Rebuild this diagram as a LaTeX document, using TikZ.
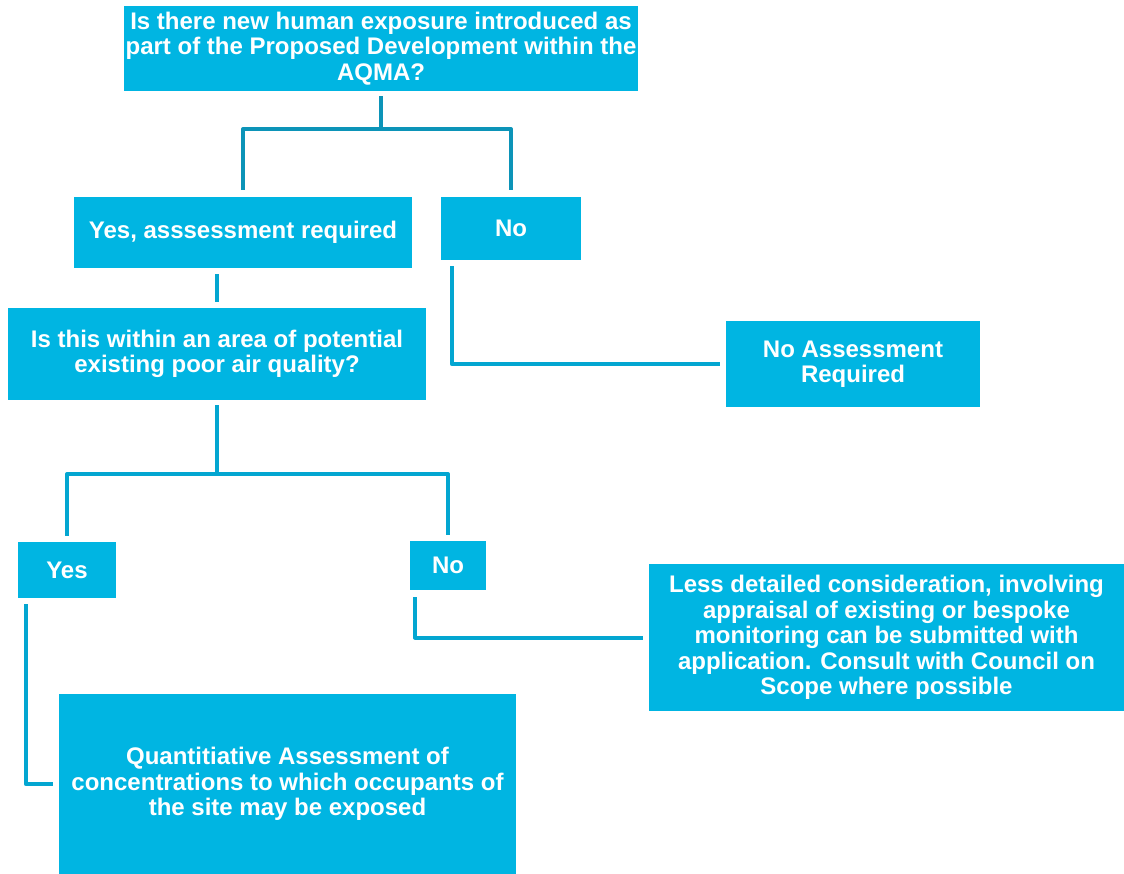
\documentclass[tikz,border=0pt]{standalone}
\usepackage{fontspec}
\setmainfont{Liberation Sans}
\definecolor{boxc}{HTML}{00B5E2}
\definecolor{conndark}{HTML}{0C94B8}
\definecolor{connc}{HTML}{03A6D1}
\tikzset{
  box/.style={fill=boxc, text=white, inner sep=0pt, align=center,
    font=\bfseries\fontsize{24}{25.5}\selectfont},
  conn/.style={draw=connc, line width=4pt, line join=round},
  conntop/.style={conn, draw=conndark}
}
\begin{document}
\begin{tikzpicture}[x=1pt,y=-1pt]
\useasboundingbox (0,0) rectangle (1124,874);
\node[box, minimum width=514, minimum height=85] (top) at (381,48.5)
  {Is there new human exposure introduced as\\part of the Proposed Development within the\\AQMA?};
\node[box, minimum width=338, minimum height=71] (yesa) at (243,232.5) {Yes, asssessment required};
\node[box, minimum width=140, minimum height=63] (notop) at (511,228.5) {No};
\node[box, minimum width=418, minimum height=92] (isthis) at (217,354)
  {Is this within an area of potential\\existing poor air quality?};
\node[box, minimum width=254, minimum height=86] (noassess) at (853,364)
  {No Assessment\\Required};
\node[box, minimum width=98, minimum height=56] (yes) at (67,570) {Yes};
\node[box, minimum width=76, minimum height=49] (no2) at (448,565.5) {No};
\node[box, minimum width=475, minimum height=147] (less) at (886.5,637.5)
  {Less detailed consideration, involving\\appraisal of existing or bespoke\\monitoring can be submitted with\\application. Consult with Council on\\Scope where possible};
\node[box, minimum width=457, minimum height=180] (quant) at (287.5,784)
  {Quantitiative Assessment of\\concentrations to which occupants of\\the site may be exposed};
% connectors
\draw[conntop] ([yshift=-5]top.south) -- ([yshift=-38]top.south);
\draw[conntop] ([yshift=7]yesa.north) |- ([yshift=-38]top.south) -| ([yshift=7]notop.north);
\draw[conn] ([yshift=-6]yesa.south -| isthis.north) -- ([yshift=6]isthis.north);
\draw[conn] ([xshift=11,yshift=-6]notop.south west) |- ([xshift=-6]noassess.west);
\draw[conn] ([yshift=-5]isthis.south) -- ([yshift=-74]isthis.south);
\draw[conn] ([yshift=6]yes.north) |- ([yshift=-74]isthis.south) -| ([yshift=6]no2.north);
\draw[conn] ([xshift=8,yshift=-6]yes.south west) |- ([xshift=-6]quant.west);
\draw[conn] ([xshift=5,yshift=-7]no2.south west) |- ([xshift=-6]less.west);
\end{tikzpicture}
\end{document}
